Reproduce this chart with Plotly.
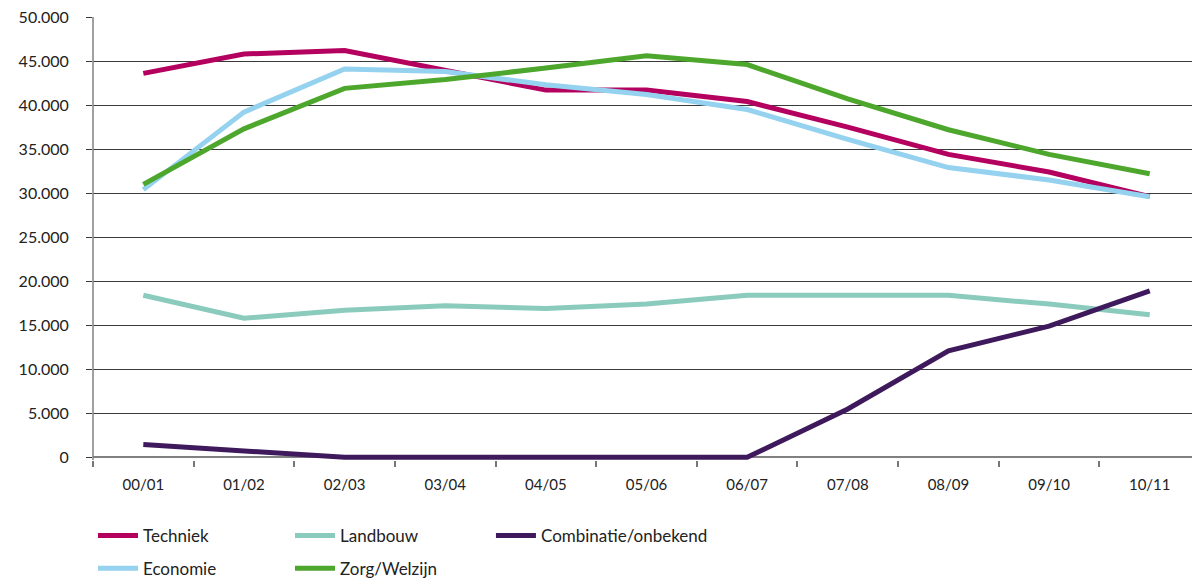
import plotly.graph_objects as go

categories = ["00/01", "01/02", "02/03", "03/04", "04/05", "05/06",
              "06/07", "07/08", "08/09", "09/10", "10/11"]

techniek = [43600, 45800, 46200, 43900, 41700, 41700, 40400, 37500, 34400, 32400, 29600]
landbouw = [18400, 15800, 16700, 17200, 16900, 17400, 18400, 18400, 18400, 17400, 16200]
combinatie = [1450, 750, 0, 0, 0, 0, 0, 5500, 12100, 14900, 18900]
economie = [30400, 39200, 44100, 43800, 42300, 41200, 39500, 36100, 32900, 31500, 29600]
zorg = [31000, 37300, 41900, 42900, 44200, 45600, 44600, 40700, 37200, 34400, 32200]

y_ticks = [0, 5000, 10000, 15000, 20000, 25000, 30000, 35000, 40000, 45000, 50000]

series = [
    ("Techniek", techniek, "#b4005e", "legend"),
    ("Landbouw", landbouw, "#8bcbbd", "legend"),
    ("Combinatie/onbekend", combinatie, "#3e1a5d", "legend3"),
    ("Economie", economie, "#94d2ef", "legend2"),
    ("Zorg/Welzijn", zorg, "#4ea72d", "legend2"),
]

fig = go.Figure()
for name, vals, color, leg in series:
    fig.add_trace(go.Scatter(
        x=categories, y=vals, name=name, mode="lines",
        line=dict(color=color, width=5, shape="linear"),
        legend=leg, cliponaxis=False,
    ))

font_family = "Lato, 'Open Sans', sans-serif"
leg_font = dict(size=17, color="#222222", family=font_family)

fig.update_layout(
    width=1192, height=580,
    margin=dict(l=93, r=0, t=17, b=120, autoexpand=False),
    paper_bgcolor="white", plot_bgcolor="white",
    separators=",.",
    font=dict(family=font_family, size=17, color="#222222"),
    showlegend=True,
    legend=dict(orientation="h", x=0.0, y=-0.131, xanchor="left", yanchor="top",
                entrywidth=142, font=leg_font,
                itemwidth=40, bgcolor="rgba(0,0,0,0)"),
    legend2=dict(orientation="h", x=0.0, y=-0.205, xanchor="left", yanchor="top",
                 entrywidth=142, font=leg_font,
                 itemwidth=40, bgcolor="rgba(0,0,0,0)"),
    legend3=dict(orientation="h", x=0.3621, y=-0.131, xanchor="left", yanchor="top",
                 font=leg_font, itemwidth=40, bgcolor="rgba(0,0,0,0)"),
)

fig.update_xaxes(
    type="category", range=[-0.5, 10.42],
    showgrid=False, showline=False, zeroline=False,
    ticks="outside", tickson="boundaries", ticklen=6, tickcolor="#777777", tickwidth=1.5,
    ticklabelstandoff=14,
    tickfont=dict(family=font_family, size=15, color="#222222"),
)

fig.update_yaxes(
    range=[-300, 50000], tickvals=y_ticks, tickformat=",d",
    showgrid=True, gridcolor="#3a3a3a", gridwidth=1,
    zeroline=True, zerolinecolor="#808080", zerolinewidth=1.5,
    showline=False,
    ticks="outside", ticklen=6, tickcolor="#3a3a3a", tickwidth=1,
    ticklabelstandoff=14,
    tickfont=dict(family=font_family, size=16, color="#222222"),
)

# y axis line from 0 to 50000
fig.add_shape(type="line", xref="paper", yref="y", x0=0, x1=0, y0=-300, y1=50000,
              line=dict(color="#808080", width=1.5), layer="above")

fig.write_html("out.html")
